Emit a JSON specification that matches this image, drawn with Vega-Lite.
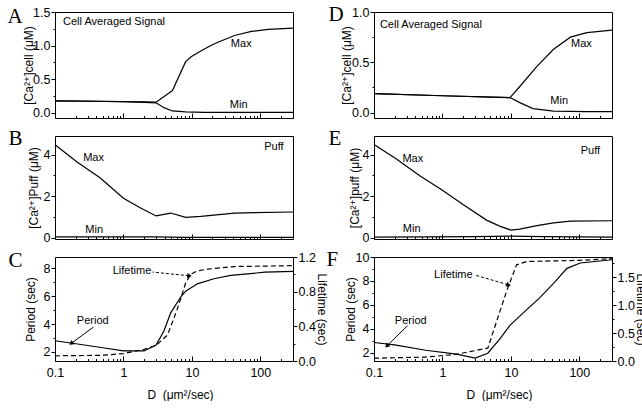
{
  "$schema": "https://vega.github.io/schema/vega-lite/v6.json",
  "padding": {"left": 6, "top": 3, "right": 0, "bottom": 0},
  "background": "white",
  "datasets": {
    "A": [
      {"s":"Max","D":0.1,"v":0.175},{"s":"Max","D":0.3,"v":0.171},{"s":"Max","D":1,"v":0.165},{"s":"Max","D":2,"v":0.16},{"s":"Max","D":3,"v":0.156},{"s":"Max","D":5.2,"v":0.33},{"s":"Max","D":8.1,"v":0.76},{"s":"Max","D":10,"v":0.84},{"s":"Max","D":13.5,"v":0.92},{"s":"Max","D":18,"v":0.99},{"s":"Max","D":24,"v":1.05},{"s":"Max","D":42,"v":1.15},{"s":"Max","D":74,"v":1.21},{"s":"Max","D":130,"v":1.24},{"s":"Max","D":300,"v":1.26},
      {"s":"Min","D":0.1,"v":0.175},{"s":"Min","D":0.3,"v":0.17},{"s":"Min","D":1,"v":0.162},{"s":"Min","D":2,"v":0.153},{"s":"Min","D":3,"v":0.146},{"s":"Min","D":3.9,"v":0.074},{"s":"Min","D":5.2,"v":0.025},{"s":"Min","D":8.1,"v":0.01},{"s":"Min","D":15,"v":0.005},{"s":"Min","D":300,"v":0.005}
    ],
    "B": [
      {"s":"Max","D":0.1,"v":4.48},{"s":"Max","D":0.21,"v":3.65},{"s":"Max","D":0.46,"v":2.88},{"s":"Max","D":1,"v":1.9},{"s":"Max","D":1.78,"v":1.43},{"s":"Max","D":3,"v":1.05},{"s":"Max","D":4.9,"v":1.19},{"s":"Max","D":8.1,"v":0.98},{"s":"Max","D":13.5,"v":1.03},{"s":"Max","D":42,"v":1.19},{"s":"Max","D":300,"v":1.24},
      {"s":"Min","D":0.1,"v":0.04},{"s":"Min","D":3,"v":0.04},{"s":"Min","D":8,"v":0.02},{"s":"Min","D":300,"v":0.02}
    ],
    "CP": [
      {"D":0.1,"v":2.8},{"D":0.18,"v":2.62},{"D":0.5,"v":2.3},{"D":1,"v":2.07},{"D":2,"v":2.07},{"D":3,"v":2.5},{"D":3.9,"v":3.5},{"D":4.9,"v":4.8},{"D":6.9,"v":5.95},{"D":8.1,"v":6.35},{"D":12,"v":6.88},{"D":21,"v":7.24},{"D":37,"v":7.48},{"D":116,"v":7.71},{"D":300,"v":7.77}
    ],
    "CL": [
      {"D":0.1,"v":0.06},{"D":0.46,"v":0.065},{"D":1,"v":0.085},{"D":2,"v":0.135},{"D":3,"v":0.18},{"D":4.4,"v":0.3},{"D":6,"v":0.58},{"D":7,"v":0.74},{"D":8.1,"v":0.9},{"D":9.6,"v":1.0},{"D":12,"v":1.04},{"D":17,"v":1.06},{"D":42,"v":1.09},{"D":300,"v":1.1}
    ],
    "CA": [
      {"k":"L","D":9.0,"v":7.46,"D1":2.67,"v1":7.72},
      {"k":"P","D":0.176,"v":2.64,"D1":0.366,"v1":3.79}
    ],
    "D": [
      {"s":"Max","D":0.1,"v":0.19},{"s":"Max","D":1,"v":0.168},{"s":"Max","D":9.7,"v":0.15},{"s":"Max","D":13.5,"v":0.26},{"s":"Max","D":24,"v":0.46},{"s":"Max","D":42,"v":0.63},{"s":"Max","D":74,"v":0.75},{"s":"Max","D":129,"v":0.795},{"s":"Max","D":300,"v":0.82},
      {"s":"Min","D":0.1,"v":0.19},{"s":"Min","D":1,"v":0.168},{"s":"Min","D":9.7,"v":0.15},{"s":"Min","D":13.5,"v":0.1},{"s":"Min","D":21,"v":0.04},{"s":"Min","D":42,"v":0.015},{"s":"Min","D":129,"v":0.01},{"s":"Min","D":300,"v":0.01}
    ],
    "E": [
      {"s":"Max","D":0.1,"v":4.49},{"s":"Max","D":0.21,"v":3.8},{"s":"Max","D":0.46,"v":3.0},{"s":"Max","D":1,"v":2.29},{"s":"Max","D":2,"v":1.6},{"s":"Max","D":4.4,"v":0.85},{"s":"Max","D":7,"v":0.55},{"s":"Max","D":10,"v":0.37},{"s":"Max","D":13.5,"v":0.42},{"s":"Max","D":24,"v":0.58},{"s":"Max","D":42,"v":0.72},{"s":"Max","D":74,"v":0.8},{"s":"Max","D":300,"v":0.82},
      {"s":"Min","D":0.1,"v":0.03},{"s":"Min","D":3,"v":0.05},{"s":"Min","D":10,"v":0.08},{"s":"Min","D":30,"v":0.05},{"s":"Min","D":300,"v":0.03}
    ],
    "FP": [
      {"D":0.1,"v":2.85},{"D":0.2,"v":2.65},{"D":0.57,"v":2.2},{"D":1.6,"v":1.87},{"D":3,"v":1.55},{"D":4.6,"v":1.95},{"D":7,"v":3.2},{"D":9.6,"v":4.26},{"D":15,"v":5.3},{"D":26.5,"v":6.6},{"D":42,"v":7.8},{"D":66,"v":9.05},{"D":103,"v":9.5},{"D":300,"v":9.77}
    ],
    "FL": [
      {"D":0.1,"v":0.05},{"D":0.57,"v":0.07},{"D":1.6,"v":0.12},{"D":4.6,"v":0.23},{"D":8.6,"v":1.24},{"D":12.1,"v":1.72},{"D":17,"v":1.78},{"D":100,"v":1.8},{"D":300,"v":1.83}
    ],
    "FA": [
      {"k":"L","D":9.04,"v":7.68,"D1":2.95,"v1":8.5},
      {"k":"P","D":0.157,"v":2.61,"D1":0.31,"v1":4.26}
    ]
  },
  "columns": 2,
  "bounds": "flush",
  "spacing": {"row": 18, "column": 81},
  "concat": [
    {
      "width": 238, "height": 106,
      "resolve": {"axis": {"x": "independent", "y": "independent"}},
      "layer": [
        {
          "encoding": {
            "x": {"field":"D","type":"quantitative","scale":{"type":"log","domain":[0.1,300],"nice":false},
                  "axis":{"orient":"bottom","values":[0.1,1,10,100],"labels":false,"title":null,"tickSize":-5}},
            "y": {"field":"v","type":"quantitative","scale":{"domain":[-0.08,1.5001],"nice":false,"zero":false},
                  "axis":{"orient":"left","values":[0,0.5,1,1.5],"format":".1f","tickSize":4,
                          "title":"[Ca²⁺]cell (μM)","titleX":-27,"titleBaseline":"middle"}}
          },
          "layer": [
            {"data":{"name":"A"},"mark":{"type":"line"},"encoding":{"detail":{"field":"s"}}},
            {"data":{"values":[{"D":0.131,"v":1.35,"t":"Cell Averaged Signal"}]},"mark":{"type":"text","align":"left"},"encoding":{"text":{"field":"t"}}},
            {"data":{"values":[{"D":52.6,"v":1.03,"t":"Max"},{"D":48.3,"v":0.12,"t":"Min"}]},"mark":{"type":"text"},"encoding":{"text":{"field":"t"}}}
          ]
        },
        {
          "data":{"name":"A"},"mark":{"type":"point","opacity":0},
          "encoding": {
            "x": {"field":"D","type":"quantitative","scale":{"type":"log","domain":[0.1,300],"nice":false},
                  "axis":{"orient":"bottom","values":[0.2,0.3,0.4,0.5,0.6,0.7,0.8,0.9,2,3,4,5,6,7,8,9,20,30,40,50,60,70,80,90,200],"labels":false,"title":null,"tickSize":-2.5}},
            "y": {"field":"v","type":"quantitative","scale":{"domain":[-0.08,1.5001],"nice":false,"zero":false},
                  "axis":{"orient":"left","values":[0.25,0.75,1.25],"labels":false,"tickSize":2,
                          "title":"A","titleX":-48,"titleY":10,"titleAngle":0,"titleAlign":"left","titleBaseline":"alphabetic","titleFont":"Liberation Serif","titleFontSize":21}}
          }
        }
      ]
    },
    {
      "width": 238, "height": 106,
      "resolve": {"axis": {"x": "independent", "y": "independent"}},
      "layer": [
        {
          "encoding": {
            "x": {"field":"D","type":"quantitative","scale":{"type":"log","domain":[0.1,300],"nice":false},
                  "axis":{"orient":"bottom","values":[0.1,1,10,100],"labels":false,"title":null,"tickSize":-5}},
            "y": {"field":"v","type":"quantitative","scale":{"domain":[-0.053,1.0],"nice":false,"zero":false},
                  "axis":{"orient":"left","values":[0,0.5,1],"format":".1f","tickSize":4,
                          "title":"[Ca²⁺]cell (μM)","titleX":-28,"titleBaseline":"middle"}}
          },
          "layer": [
            {"data":{"name":"D"},"mark":{"type":"line"},"encoding":{"detail":{"field":"s"}}},
            {"data":{"values":[{"D":0.122,"v":0.87,"t":"Cell Averaged Signal"}]},"mark":{"type":"text","align":"left"},"encoding":{"text":{"field":"t"}}},
            {"data":{"values":[{"D":107,"v":0.68,"t":"Max"},{"D":50.8,"v":0.12,"t":"Min"}]},"mark":{"type":"text"},"encoding":{"text":{"field":"t"}}}
          ]
        },
        {
          "data":{"name":"D"},"mark":{"type":"point","opacity":0},
          "encoding": {
            "x": {"field":"D","type":"quantitative","scale":{"type":"log","domain":[0.1,300],"nice":false},
                  "axis":{"orient":"bottom","values":[0.2,0.3,0.4,0.5,0.6,0.7,0.8,0.9,2,3,4,5,6,7,8,9,20,30,40,50,60,70,80,90,200],"labels":false,"title":null,"tickSize":-2.5}},
            "y": {"field":"v","type":"quantitative","scale":{"domain":[-0.053,1.0],"nice":false,"zero":false},
                  "axis":{"orient":"left","values":[0.25,0.75],"labels":false,"tickSize":2,
                          "title":"D","titleX":-46,"titleY":8.5,"titleAngle":0,"titleAlign":"left","titleBaseline":"alphabetic","titleFont":"Liberation Serif","titleFontSize":21}}
          }
        }
      ]
    },
    {
      "width": 238, "height": 103,
      "resolve": {"axis": {"x": "independent", "y": "independent"}},
      "layer": [
        {
          "encoding": {
            "x": {"field":"D","type":"quantitative","scale":{"type":"log","domain":[0.1,300],"nice":false},
                  "axis":{"orient":"bottom","values":[0.1,1,10,100],"labels":false,"title":null,"tickSize":-5}},
            "y": {"field":"v","type":"quantitative","scale":{"domain":[-0.06,4.9],"nice":false,"zero":false},
                  "axis":{"orient":"left","values":[0,2,4],"format":"d","tickSize":4,
                          "title":"[Ca²⁺]Puff (μM)","titleX":-22,"titleBaseline":"middle"}}
          },
          "layer": [
            {"data":{"name":"B"},"mark":{"type":"line"},"encoding":{"detail":{"field":"s"}}},
            {"data":{"values":[{"D":0.366,"v":3.84,"t":"Max"},{"D":0.374,"v":0.39,"t":"Min"},{"D":158,"v":4.37,"t":"Puff"}]},"mark":{"type":"text"},"encoding":{"text":{"field":"t"}}}
          ]
        },
        {
          "data":{"name":"B"},"mark":{"type":"point","opacity":0},
          "encoding": {
            "x": {"field":"D","type":"quantitative","scale":{"type":"log","domain":[0.1,300],"nice":false},
                  "axis":{"orient":"bottom","values":[0.2,0.3,0.4,0.5,0.6,0.7,0.8,0.9,2,3,4,5,6,7,8,9,20,30,40,50,60,70,80,90,200],"labels":false,"title":null,"tickSize":-2.5}},
            "y": {"field":"v","type":"quantitative","scale":{"domain":[-0.06,4.9],"nice":false,"zero":false},
                  "axis":{"orient":"left","values":[1,3],"labels":false,"tickSize":2,
                          "title":"B","titleX":-47,"titleY":8,"titleAngle":0,"titleAlign":"left","titleBaseline":"alphabetic","titleFont":"Liberation Serif","titleFontSize":21}}
          }
        }
      ]
    },
    {
      "width": 238, "height": 103,
      "resolve": {"axis": {"x": "independent", "y": "independent"}},
      "layer": [
        {
          "encoding": {
            "x": {"field":"D","type":"quantitative","scale":{"type":"log","domain":[0.1,300],"nice":false},
                  "axis":{"orient":"bottom","values":[0.1,1,10,100],"labels":false,"title":null,"tickSize":-5}},
            "y": {"field":"v","type":"quantitative","scale":{"domain":[-0.06,4.9],"nice":false,"zero":false},
                  "axis":{"orient":"left","values":[0,2,4],"format":"d","tickSize":4,
                          "title":"[Ca²⁺]puff (μM)","titleX":-20,"titleBaseline":"middle"}}
          },
          "layer": [
            {"data":{"name":"E"},"mark":{"type":"line"},"encoding":{"detail":{"field":"s"}}},
            {"data":{"values":[{"D":0.369,"v":3.81,"t":"Max"},{"D":0.355,"v":0.4,"t":"Min"},{"D":145,"v":4.17,"t":"Puff"}]},"mark":{"type":"text"},"encoding":{"text":{"field":"t"}}}
          ]
        },
        {
          "data":{"name":"E"},"mark":{"type":"point","opacity":0},
          "encoding": {
            "x": {"field":"D","type":"quantitative","scale":{"type":"log","domain":[0.1,300],"nice":false},
                  "axis":{"orient":"bottom","values":[0.2,0.3,0.4,0.5,0.6,0.7,0.8,0.9,2,3,4,5,6,7,8,9,20,30,40,50,60,70,80,90,200],"labels":false,"title":null,"tickSize":-2.5}},
            "y": {"field":"v","type":"quantitative","scale":{"domain":[-0.06,4.9],"nice":false,"zero":false},
                  "axis":{"orient":"left","values":[1,3],"labels":false,"tickSize":2,
                          "title":"E","titleX":-46,"titleY":8,"titleAngle":0,"titleAlign":"left","titleBaseline":"alphabetic","titleFont":"Liberation Serif","titleFontSize":21}}
          }
        }
      ]
    },
    {
      "width": 238, "height": 104,
      "resolve": {"scale": {"y": "independent"}, "axis": {"x": "independent", "y": "independent"}},
      "layer": [
        {
          "encoding": {
            "x": {"field":"D","type":"quantitative","scale":{"type":"log","domain":[0.1,300],"nice":false},
                  "axis":{"orient":"bottom","values":[0.1,1,10,100],"labelExpr":"format(datum.value,'~g')","labelPadding":10.5,"tickSize":-5,
                          "title":"D\u00a0\u00a0(μm²/sec)","titleX":125,"titleY":33,"titleBaseline":"middle"}},
            "y": {"field":"v","type":"quantitative","scale":{"domain":[1.35,8.8],"nice":false,"zero":false},
                  "axis":{"orient":"left","values":[2,4,6,8],"format":"d","tickSize":4,
                          "title":"Period (sec)","titleX":-25,"titleBaseline":"middle"}}
          },
          "layer": [
            {"data":{"name":"CP"},"mark":{"type":"line"}},
            {"data":{"name":"CA"},"transform":[{"filter":"datum.k=='L'"}],"mark":{"type":"rule","strokeDash":[3,2],"strokeWidth":1},"encoding":{"x2":{"field":"D1"},"y2":{"field":"v1"}}},
            {"data":{"name":"CA"},"transform":[{"filter":"datum.k=='P'"}],"mark":{"type":"rule","strokeWidth":1},"encoding":{"x2":{"field":"D1"},"y2":{"field":"v1"}}},
            {"data":{"name":"CA"},"transform":[{"filter":"datum.k=='L'"}],"mark":{"type":"point","shape":"triangle","angle":96,"filled":true,"size":28,"opacity":1}},
            {"data":{"name":"CA"},"transform":[{"filter":"datum.k=='P'"}],"mark":{"type":"point","shape":"triangle","angle":233,"filled":true,"size":28,"opacity":1}},
            {"data":{"values":[{"D":2.55,"v":7.79,"t":"Lifetime"}]},"mark":{"type":"text","align":"right"},"encoding":{"text":{"field":"t"}}},
            {"data":{"values":[{"D":0.356,"v":4.21,"t":"Period"}]},"mark":{"type":"text"},"encoding":{"text":{"field":"t"}}}
          ]
        },
        {
          "data":{"name":"CL"},
          "mark":{"type":"line","strokeDash":[5,3]},
          "encoding": {
            "x": {"field":"D","type":"quantitative","scale":{"type":"log","domain":[0.1,300],"nice":false},"axis":null},
            "y": {"field":"v","type":"quantitative","scale":{"domain":[0,1.2],"nice":false,"zero":false},
                  "axis":{"orient":"right","values":[0,0.4,0.8,1.2],"format":".1f","tickSize":4,
                          "title":"Lifetime (sec)","titleX":28,"titleBaseline":"middle"}}
          }
        },
        {
          "data":{"name":"CP"},"mark":{"type":"point","opacity":0},
          "encoding": {
            "x": {"field":"D","type":"quantitative","scale":{"type":"log","domain":[0.1,300],"nice":false},
                  "axis":{"orient":"bottom","values":[0.2,0.3,0.4,0.5,0.6,0.7,0.8,0.9,2,3,4,5,6,7,8,9,20,30,40,50,60,70,80,90,200],"labels":false,"title":null,"tickSize":-2.5}},
            "y": {"field":"v","type":"quantitative","scale":{"domain":[1.35,8.8],"nice":false,"zero":false},
                  "axis":{"orient":"left","values":[3,5,7],"labels":false,"tickSize":2,
                          "title":"C","titleX":-47,"titleY":9,"titleAngle":0,"titleAlign":"left","titleBaseline":"alphabetic","titleFont":"Liberation Serif","titleFontSize":21}}
          }
        },
        {
          "data":{"name":"CL"},"mark":{"type":"point","opacity":0},
          "encoding": {
            "x": {"field":"D","type":"quantitative","scale":{"type":"log","domain":[0.1,300],"nice":false},"axis":null},
            "y": {"field":"v","type":"quantitative","scale":{"domain":[0,1.2],"nice":false,"zero":false},
                  "axis":{"orient":"right","values":[0.2,0.6,1.0],"labels":false,"title":null,"tickSize":2}}
          }
        }
      ]
    },
    {
      "width": 238, "height": 104,
      "resolve": {"scale": {"y": "independent"}, "axis": {"x": "independent", "y": "independent"}},
      "layer": [
        {
          "encoding": {
            "x": {"field":"D","type":"quantitative","scale":{"type":"log","domain":[0.1,300],"nice":false},
                  "axis":{"orient":"bottom","values":[0.1,1,10,100],"labelExpr":"format(datum.value,'~g')","labelPadding":10.5,"tickSize":-5,
                          "title":"D\u00a0\u00a0(μm²/sec)","titleX":125,"titleY":33,"titleBaseline":"middle"}},
            "y": {"field":"v","type":"quantitative","scale":{"domain":[1.3,10],"nice":false,"zero":false},
                  "axis":{"orient":"left","values":[2,4,6,8,10],"format":"d","tickSize":4,
                          "title":"Period (sec)","titleX":-24,"titleBaseline":"middle"}}
          },
          "layer": [
            {"data":{"name":"FP"},"mark":{"type":"line"}},
            {"data":{"name":"FA"},"transform":[{"filter":"datum.k=='L'"}],"mark":{"type":"rule","strokeDash":[3,2],"strokeWidth":1},"encoding":{"x2":{"field":"D1"},"y2":{"field":"v1"}}},
            {"data":{"name":"FA"},"transform":[{"filter":"datum.k=='P'"}],"mark":{"type":"rule","strokeWidth":1},"encoding":{"x2":{"field":"D1"},"y2":{"field":"v1"}}},
            {"data":{"name":"FA"},"transform":[{"filter":"datum.k=='L'"}],"mark":{"type":"point","shape":"triangle","angle":107,"filled":true,"size":28,"opacity":1}},
            {"data":{"name":"FA"},"transform":[{"filter":"datum.k=='P'"}],"mark":{"type":"point","shape":"triangle","angle":225,"filled":true,"size":28,"opacity":1}},
            {"data":{"values":[{"D":2.76,"v":8.53,"t":"Lifetime"}]},"mark":{"type":"text","align":"right"},"encoding":{"text":{"field":"t"}}},
            {"data":{"values":[{"D":0.344,"v":4.68,"t":"Period"}]},"mark":{"type":"text"},"encoding":{"text":{"field":"t"}}}
          ]
        },
        {
          "data":{"name":"FL"},
          "mark":{"type":"line","strokeDash":[5,3]},
          "encoding": {
            "x": {"field":"D","type":"quantitative","scale":{"type":"log","domain":[0.1,300],"nice":false},"axis":null},
            "y": {"field":"v","type":"quantitative","scale":{"domain":[0,1.86],"nice":false,"zero":false},
                  "axis":{"orient":"right","values":[0,0.5,1,1.5],"format":".1f","tickSize":4,
                          "title":"Lifetime (sec)","titleX":28,"titleBaseline":"middle"}}
          }
        },
        {
          "data":{"name":"FP"},"mark":{"type":"point","opacity":0},
          "encoding": {
            "x": {"field":"D","type":"quantitative","scale":{"type":"log","domain":[0.1,300],"nice":false},
                  "axis":{"orient":"bottom","values":[0.2,0.3,0.4,0.5,0.6,0.7,0.8,0.9,2,3,4,5,6,7,8,9,20,30,40,50,60,70,80,90,200],"labels":false,"title":null,"tickSize":-2.5}},
            "y": {"field":"v","type":"quantitative","scale":{"domain":[1.3,10],"nice":false,"zero":false},
                  "axis":{"orient":"left","values":[3,5,7,9],"labels":false,"tickSize":2,
                          "title":"F","titleX":-48,"titleY":8.5,"titleAngle":0,"titleAlign":"left","titleBaseline":"alphabetic","titleFont":"Liberation Serif","titleFontSize":21}}
          }
        },
        {
          "data":{"name":"FL"},"mark":{"type":"point","opacity":0},
          "encoding": {
            "x": {"field":"D","type":"quantitative","scale":{"type":"log","domain":[0.1,300],"nice":false},"axis":null},
            "y": {"field":"v","type":"quantitative","scale":{"domain":[0,1.86],"nice":false,"zero":false},
                  "axis":{"orient":"right","values":[0.25,0.75,1.25,1.75],"labels":false,"title":null,"tickSize":2}}
          }
        }
      ]
    }
  ],
  "config": {
    "font": "Liberation Sans",
    "view": {"stroke": "black", "strokeWidth": 1},
    "axis": {"domain": false, "grid": false, "labelFont": "Liberation Sans", "labelFontSize": 12.5, "labelColor": "black",
             "tickColor": "black", "tickWidth": 1, "titleFont": "Liberation Sans, DejaVu Sans", "titleFontSize": 12, "titleFontWeight": "normal",
             "titleColor": "black", "labelOverlap": false, "labelPadding": 1, "labelFlush": false},
    "line": {"color": "black", "strokeWidth": 1.2},
    "rule": {"color": "black"},
    "point": {"color": "black"},
    "text": {"color": "black", "font": "Liberation Sans", "fontSize": 11}
  }
}
